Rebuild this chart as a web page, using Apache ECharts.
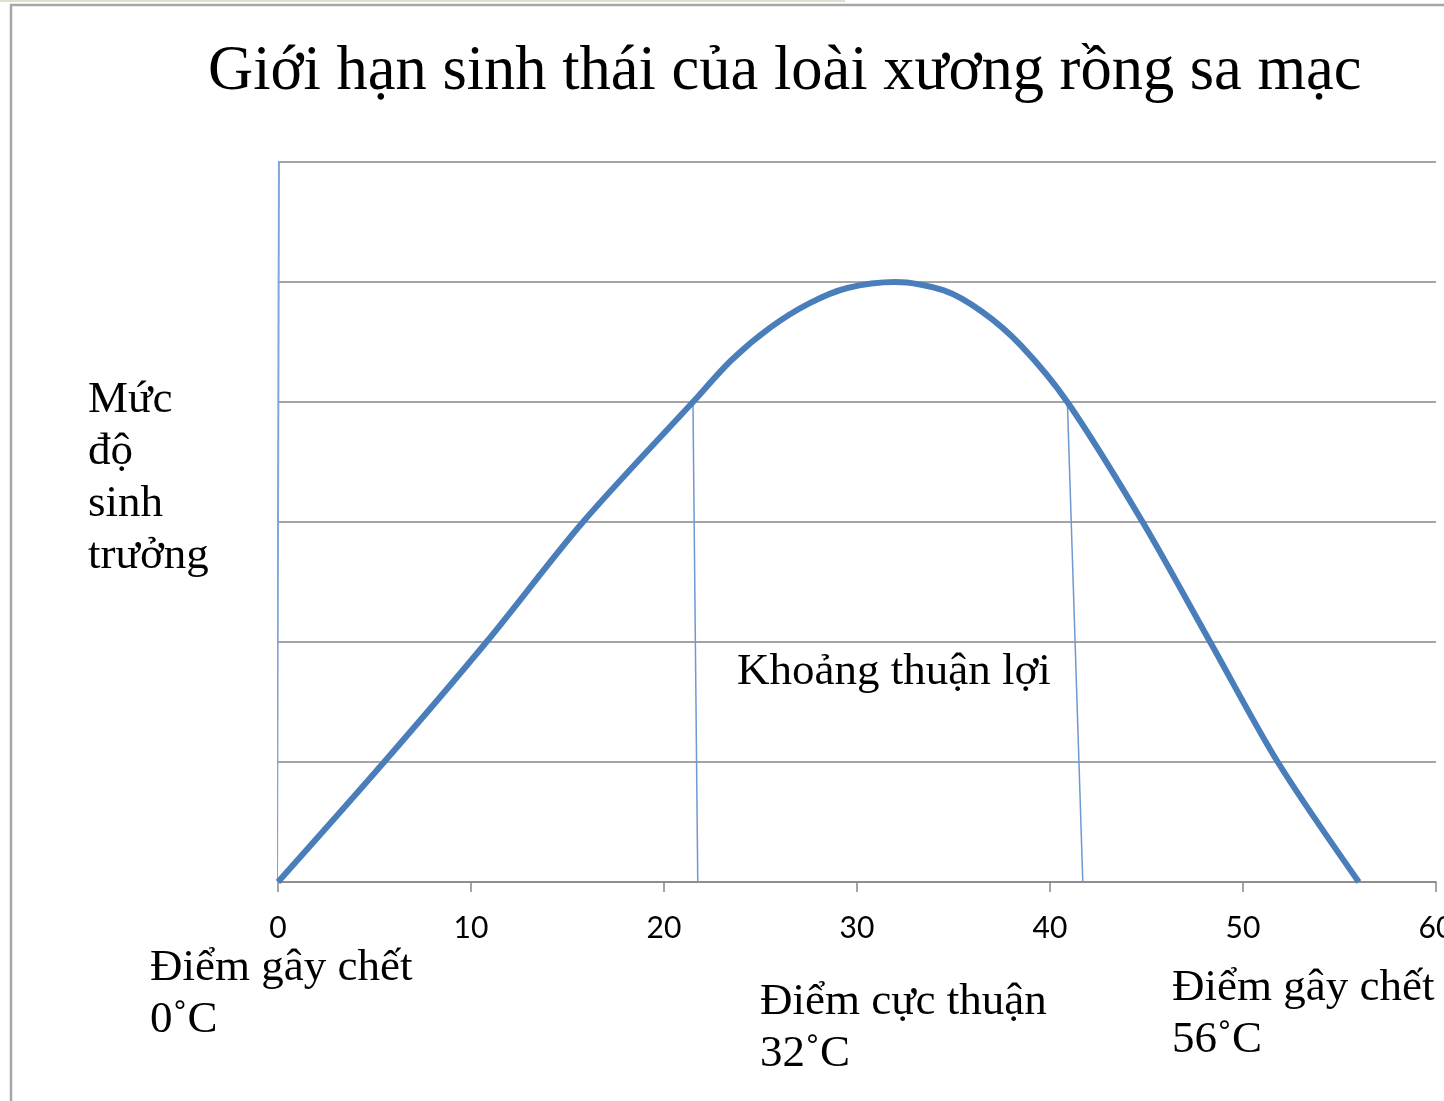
<!DOCTYPE html>
<html>
<head>
<meta charset="utf-8">
<script src="https://cdn.jsdelivr.net/npm/echarts@6/dist/echarts.min.js"></script>
<style>
html,body{margin:0;padding:0;background:#fff;}
#chart{width:1444px;height:1101px;}
</style>
</head>
<body>
<div id="chart"></div>
<script>
// Temperature (°C) vs growth level
const curveX = [0, 5.5, 10.8, 15.8, 21.5, 23.5, 25.5, 27.5, 29.5, 32, 34.5, 36.5, 38.5, 40.9, 44.8, 48.3, 51.8, 56];
const curveY = [0, 1, 2, 3, 4, 4.35, 4.62, 4.82, 4.95, 5, 4.93, 4.75, 4.47, 4, 3, 2, 1, 0];
const leftBoundX = [21.5, 21.75];
const rightBoundX = [40.9, 41.7];
const boundY = [4, 0];
const yAxisLineX = [0.05, -0.05];
const yAxisLineY = [6, 0];
const xTicks = [0, 10, 20, 30, 40, 50, 60];

const titleText = 'Giới hạn sinh thái của loài xương rồng sa mạc';
const yLabel = 'Mức\nđộ\nsinh\ntrưởng';
const rangeLabel = 'Khoảng thuận lợi';
const lowLabel = 'Điểm gây chết\n0˚C';
const optLabel = 'Điểm cực thuận\n32˚C';
const highLabel = 'Điểm gây chết\n56˚C';

const serif = '"Liberation Serif", "Times New Roman", serif';
const pairs = (xs, ys) => xs.map((x, i) => [x, ys[i]]);

const chart = echarts.init(document.getElementById('chart'));
const annot = (text, left, top) => ({
  type: 'text', left: left, top: top, z: 10,
  style: { text: text, font: '45px ' + serif, fill: '#000', lineHeight: 52, verticalAlign: 'top' }
});
chart.setOption({
  backgroundColor: '#fff',
  animation: false,
  title: {
    text: titleText, left: 208, top: 41, padding: 0,
    textStyle: { fontFamily: serif, fontSize: 62.5, fontWeight: 'normal', color: '#000', lineHeight: 63 }
  },
  grid: { left: 278, right: 8, top: 162, bottom: 219, containLabel: false, outerBoundsMode: 'none' },
  xAxis: {
    type: 'value', min: 0, max: 60, interval: 10,
    axisLine: { show: true, lineStyle: { color: '#868686', width: 1.5 } },
    axisTick: { show: true, length: 10, lineStyle: { color: '#868686', width: 1.5 } },
    splitLine: { show: false },
    axisLabel: {
      margin: 31, fontFamily: 'Lato, "Open Sans", sans-serif', fontSize: 30, color: '#000',
      showMaxLabel: true, showMinLabel: true, hideOverlap: false,
      formatter: v => xTicks.includes(v) ? String(v) : ''
    }
  },
  yAxis: {
    type: 'value', min: 0, max: 6, interval: 1,
    axisLine: { show: false }, axisTick: { show: false }, axisLabel: { show: false },
    splitLine: { show: true, lineStyle: { color: '#868686', width: 1.5 } }
  },
  series: [
    { type: 'line', data: pairs(yAxisLineX, yAxisLineY), symbol: 'none',
      lineStyle: { color: '#7ea6d8', width: 2 }, z: 3 },
    { type: 'line', data: pairs(leftBoundX, boundY), symbol: 'none',
      lineStyle: { color: '#6e9ad2', width: 1.5 }, z: 3 },
    { type: 'line', data: pairs(rightBoundX, boundY), symbol: 'none',
      lineStyle: { color: '#6e9ad2', width: 1.5 }, z: 3 },
    { type: 'line', data: pairs(curveX, curveY), symbol: 'none', smooth: 0.3,
      lineStyle: { color: '#4a7ebb', width: 6 }, z: 4 }
  ],
  graphic: [
    { type: 'rect', shape: { x: 11, y: 5, width: 1500, height: 1200 },
      style: { fill: 'none', stroke: '#a6a6a6', lineWidth: 2.5 }, z: 20 },
    { type: 'line', shape: { x1: 0, y1: 1, x2: 845, y2: 1 },
      style: { stroke: '#e2ddd2', lineWidth: 2 }, z: 20 },
    annot(yLabel, 88, 374),
    annot(rangeLabel, 737, 646),
    annot(lowLabel, 150, 942),
    annot(optLabel, 760, 976),
    annot(highLabel, 1172, 962)
  ]
});
</script>
</body>
</html>
